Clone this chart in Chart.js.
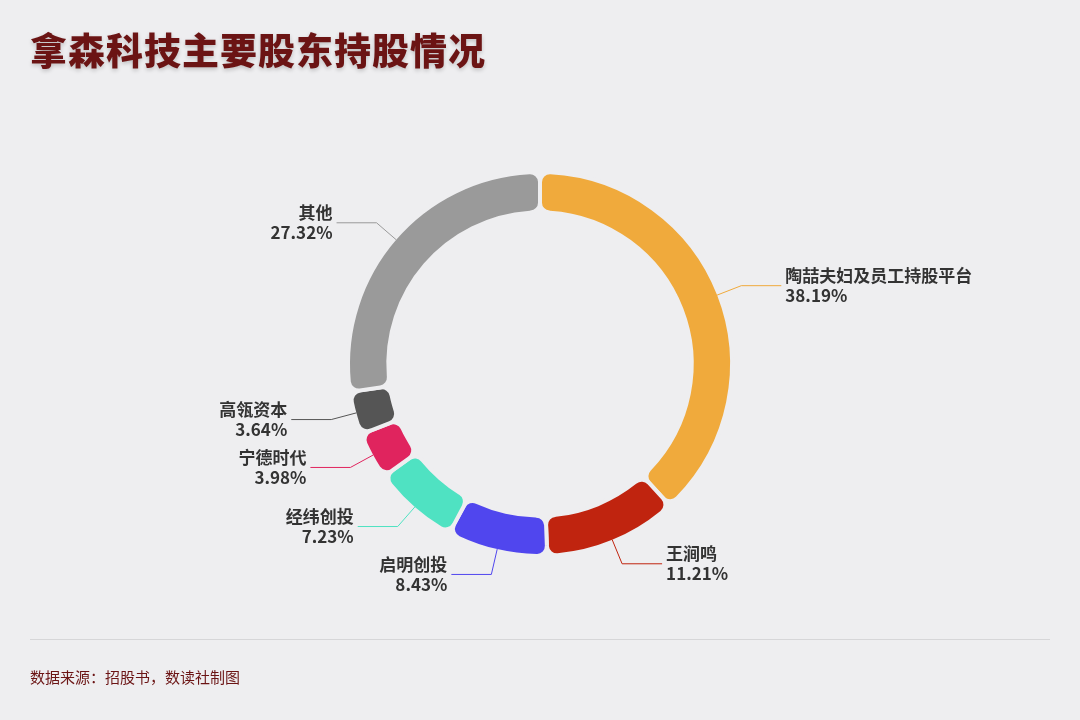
<!DOCTYPE html>
<html lang="zh">
<head>
<meta charset="UTF-8">
<title>拿森科技主要股东持股情况</title>
<script src="https://cdn.jsdelivr.net/npm/chart.js"></script>
<style>
  body { margin:0; background:#eeeef0; font-family:"Noto Sans CJK SC","Noto Sans",sans-serif; }
  #wrap { position:relative; width:1080px; height:720px; }
  h1 { position:absolute; left:30px; top:22px; margin:0; font-size:37px; color:#6b1414; font-weight:900; letter-spacing:1px; text-shadow:0 2px 4px rgba(0,0,0,0.2); }
  #rule { position:absolute; left:30px; right:30px; top:639px; border-top:1px solid #d6d6d8; }
  #src { position:absolute; left:30px; top:666px; font-size:15px; color:#6b1414; }
  canvas { position:absolute; left:0; top:0; }
</style>
</head>
<body>
<div id="wrap">
  <canvas id="myChart" width="1080" height="720"></canvas>
  <h1>拿森科技主要股东持股情况</h1>
  <div id="rule"></div>
  <div id="src">数据来源：招股书，数读社制图</div>
</div>
<script>
  const labels = ['陶喆夫妇及员工持股平台', '王涧鸣', '启明创投', '经纬创投', '宁德时代', '高瓴资本', '其他'];
  const shares = [38.19, 11.21, 8.43, 7.23, 3.98, 3.64, 27.32];
  const colors = ['#f0aa3c', '#c0240f', '#5046ee', '#4fe2c2', '#e0245e', '#555555', '#9a9a9a'];

  // 引线标签
  const labelPlugin = {
    id: 'leaderLabels',
    afterDatasetsDraw(chart) {
      const ctx = chart.ctx;
      const meta = chart.getDatasetMeta(0);
      meta.data.forEach((arc, i) => {
        const mid = (arc.startAngle + arc.endAngle) / 2;
        const r = arc.outerRadius;
        const cos = Math.cos(mid), sin = Math.sin(mid);
        const x0 = arc.x + cos * (r - 2), y0 = arc.y + sin * (r - 2);
        const x1 = arc.x + cos * (r + 24), y1 = arc.y + sin * (r + 24);
        const right = cos >= 0;
        const x2 = x1 + (right ? 40 : -40);
        ctx.save();
        ctx.strokeStyle = colors[i];
        ctx.lineWidth = 1;
        ctx.beginPath();
        ctx.moveTo(x0, y0); ctx.lineTo(x1, y1); ctx.lineTo(x2, y1);
        ctx.stroke();
        ctx.fillStyle = '#333';
        ctx.font = 'bold 17px "Noto Sans CJK SC"';
        ctx.textAlign = right ? 'left' : 'right';
        ctx.textBaseline = 'middle';
        const tx = x2 + (right ? 4 : -4);
        ctx.fillText(labels[i], tx, y1 - 10);
        ctx.fillText(shares[i].toFixed(2) + '%', tx, y1 + 10);
        ctx.restore();
      });
    }
  };

  new Chart(document.getElementById('myChart'), {
    type: 'doughnut',
    data: {
      labels: labels,
      datasets: [{
        data: shares,
        backgroundColor: colors,
        borderColor: '#eeeef0',
        borderWidth: 4,
        borderRadius: 10
      }]
    },
    options: {
      responsive: false,
      animation: false,
      cutout: '79%',
      layout: { padding: { top: 170, bottom: 162 } },
      plugins: { legend: { display: false }, tooltip: { enabled: false } }
    },
    plugins: [labelPlugin]
  });
</script>
</body>
</html>
